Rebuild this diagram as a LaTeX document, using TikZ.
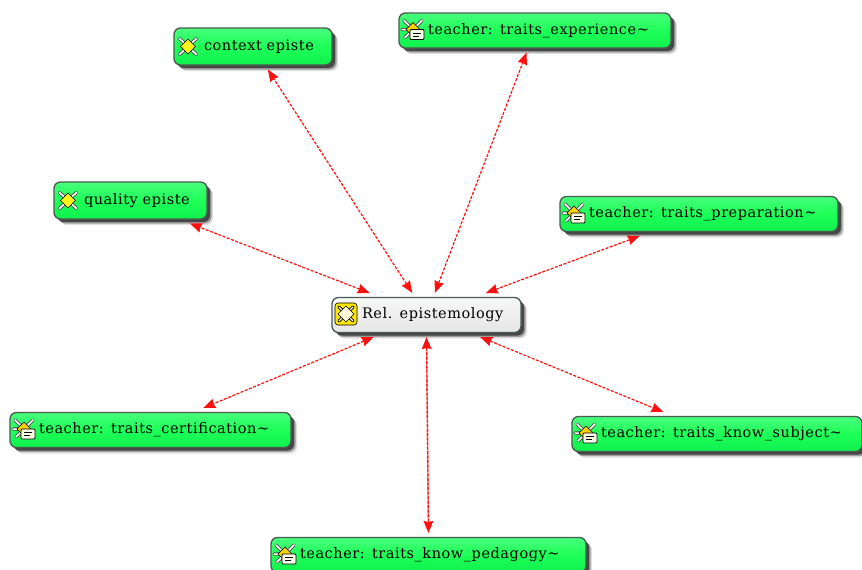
\documentclass[tikz,border=0pt]{standalone}
\usepackage{fontspec}
\setmainfont[LetterSpace=3.8,WordSpace=0.45]{DejaVu Serif}
\usetikzlibrary{arrows.meta,shadows}
\definecolor{boxedge}{HTML}{4A5A50}
\definecolor{gtop}{HTML}{48FF7C}
\definecolor{gmid}{HTML}{1EFF58}
\definecolor{gbot}{HTML}{10F04E}
\definecolor{linkred}{HTML}{FF1010}
\definecolor{linkpink}{HTML}{FF9090}
\tikzset{
  x=1pt,y=-1pt,
  basebox/.style={draw=boxedge,line width=1.3pt,rounded corners=6.5pt,inner sep=0pt,outer sep=4.5pt,
    minimum height=35pt,align=left,font=\fontsize{14.5}{17}\selectfont,anchor=center,
    drop shadow={shadow xshift=6pt,shadow yshift=-6pt,opacity=.12,fill=black},
    drop shadow={shadow xshift=4.5pt,shadow yshift=-4.5pt,opacity=.3,fill=black},
    drop shadow={shadow xshift=3pt,shadow yshift=-3pt,opacity=.55,fill=black}},
  greenbox/.style={basebox,text width=#1,top color=gtop,bottom color=gbot,middle color=gmid},
  hubbox/.style={basebox,text width=#1,top color=white!97!black,bottom color=white!90!black},
  link/.style={draw=linkred,line width=1.2pt,dash pattern=on 3pt off 1.5pt,{Stealth[length=12pt,width=9.5pt,inset=1pt]}-{Stealth[length=12pt,width=9.5pt,inset=1pt]}},
  underlink/.style={draw=linkpink,line width=1.6pt,shorten >=6pt,shorten <=6pt},
  epi/.pic={
    \draw[black!70,line width=3.4pt,line cap=round] (-8.5,-8) -- (8.5,8) (8.5,-8) -- (-8.5,8);
    \draw[white,line width=1.6pt,line cap=round] (-8.5,-8) -- (8.5,8) (8.5,-8) -- (-8.5,8);
    \draw[black,line width=.5pt,fill=yellow!90!white] (0,-7.5) -- (7.5,0) -- (0,7.5) -- (-7.5,0) -- cycle;
  },
  hubicon/.pic={
    \draw[black,line width=.6pt,fill=yellow!90!orange,rounded corners=3pt] (-11,-11) rectangle (11,11);
    \draw[black,line width=3pt,line cap=round] (-7,-7) -- (7,7) (7,-7) -- (-7,7);
    \draw[white,line width=1.3pt,line cap=round] (-7,-7) -- (7,7) (7,-7) -- (-7,7);
    \draw[black,line width=.5pt,fill=white!85!yellow] (0,-8) -- (8,0) -- (0,8) -- (-8,0) -- cycle;
  },
  tea/.pic={
    \draw[black!70,line width=3.4pt,line cap=round] (-9,-9) -- (6,6) (9,-9) -- (-8,8) (-11,0) -- (-4,0);
    \draw[white,line width=1.5pt,line cap=round] (-9,-9) -- (6,6) (9,-9) -- (-8,8) (-11,0) -- (-4,0);
    \draw[black,line width=.5pt,fill=yellow!70!orange] (0,-7) -- (7,0) -- (0,7) -- (-7,0) -- cycle;
    \draw[black,line width=.8pt,fill=white!90!yellow,rounded corners=1pt] (-3,0) rectangle (11,10);
    \draw[black,line width=.8pt] (0,3.5) -- (8,3.5) (0,6.5) -- (6,6.5);
  }
}
\begin{document}
\begin{tikzpicture}
\useasboundingbox (0,0) rectangle (862,570);
\begin{scope}
\clip (0,0) rectangle (862,570);
\node[greenbox=158pt,minimum height=37pt] (ctx) at (253,46.5) {\raisebox{2.5pt}{\hspace*{30pt}context episte}};
\node[greenbox=272pt] (exp) at (535,30.5) {\raisebox{2.5pt}{\hspace*{29pt}teacher: traits\_experience\textasciitilde}};
\node[greenbox=153pt,minimum height=37pt] (qua) at (130.5,200.5) {\raisebox{2.5pt}{\hspace*{30pt}quality episte}};
\node[greenbox=278pt] (pre) at (699,214) {\raisebox{2.5pt}{\hspace*{29pt}teacher: traits\_preparation\textasciitilde}};
\node[hubbox=189pt] (hub) at (426.5,315) {\raisebox{2.5pt}{\hspace*{30pt}Rel. epistemology}};
\node[greenbox=281pt] (cer) at (150.5,430) {\raisebox{2.5pt}{\hspace*{29pt}teacher: traits\_certification\textasciitilde}};
\node[greenbox=290pt] (sub) at (717,434) {\raisebox{2.5pt}{\hspace*{29pt}teacher: traits\_know\_subject\textasciitilde}};
\node[greenbox=315pt] (ped) at (428.5,555) {\raisebox{2.5pt}{\hspace*{29pt}teacher: traits\_know\_pedagogy\textasciitilde}};
\pic at ([xshift=18.5pt]ctx.west) {epi};
\pic at ([xshift=18.5pt,yshift=1pt]exp.west) {tea};
\pic at ([xshift=18.5pt]qua.west) {epi};
\pic at ([xshift=18.5pt,yshift=1pt]pre.west) {tea};
\pic at ([xshift=18.5pt,yshift=1pt]hub.west) {hubicon};
\pic at ([xshift=18.5pt,yshift=1pt]cer.west) {tea};
\pic at ([xshift=18.5pt,yshift=1pt]sub.west) {tea};
\pic at ([xshift=18.5pt,yshift=1pt]ped.west) {tea};
\end{scope}
\foreach \n in {ctx,exp,qua,pre,cer,sub}{\draw[link] (hub) -- (\n);}
\draw[underlink] (hub.south) -- (ped.north);
\draw[link] (hub.south) -- (ped.north);
\end{tikzpicture}
\end{document}
